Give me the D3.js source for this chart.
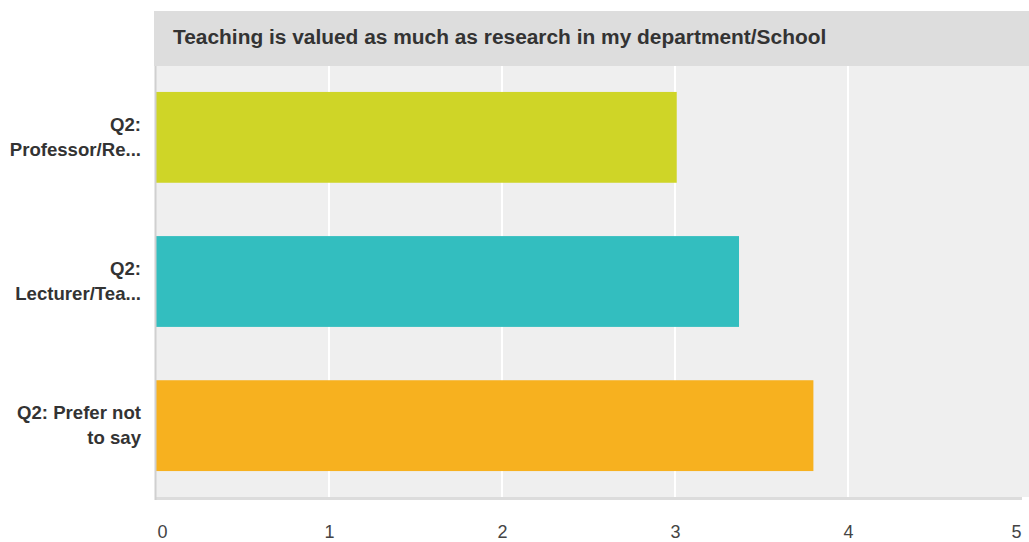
<!DOCTYPE html>
<html><head><meta charset="utf-8">
<script src="https://cdn.jsdelivr.net/npm/d3@7/dist/d3.min.js"></script>
<style>body{margin:0;background:#fff;}svg{display:block;font-family:"Liberation Sans",Arial,Helvetica,sans-serif;}</style>
</head><body><svg id="c" width="1029" height="542"></svg>
<script>
const title = "Teaching is valued as much as research in my department/School";
const categories = ["Q2: Professor/Re...", "Q2: Lecturer/Tea...", "Q2: Prefer not to say"];
const labelLines = [["Q2:", "Professor/Re..."], ["Q2:", "Lecturer/Tea..."], ["Q2: Prefer not", "to say"]];
const values = [3.01, 3.37, 3.80];
const colors = ["#cfd527", "#33bebf", "#f7b11f"];
const ticks = [0, 1, 2, 3, 4, 5];

(function () {
const svg = d3.select("#c");
const pL = 156, pR = 1021, pT = 66, pB = 497;
const x = d3.scaleLinear().domain([0, 5]).range([pL, pR]);
const y = d3.scaleBand().domain(categories).range([pT, pB]).paddingInner(0.37).paddingOuter(0.18);

// title band
svg.append("rect").attr("x", 154).attr("y", 11).attr("width", 1029 - 154).attr("height", 55).attr("fill", "#dddddd");
svg.append("text").attr("x", 173).attr("y", 44).attr("font-size", 20.9).attr("font-weight", "bold").attr("fill", "#333").text(title);

// plot bg
svg.append("rect").attr("x", pL).attr("y", pT).attr("width", 1029 - pL).attr("height", pB - pT).attr("fill", "#efefef");

// gridlines
svg.append("g").selectAll("line").data(ticks.filter(t => t > 0 && t < 5)).join("line")
  .attr("x1", d => x(d)).attr("x2", d => x(d)).attr("y1", pT).attr("y2", pB)
  .attr("stroke", "#fff").attr("stroke-width", 2);

// bars
svg.append("g").selectAll("rect").data(categories).join("rect")
  .attr("x", x(0)).attr("y", d => y(d)).attr("width", (d, i) => x(values[i]) - x(0)).attr("height", y.bandwidth())
  .attr("fill", (d, i) => colors[i]);

// axis lines
svg.append("rect").attr("x", 155).attr("y", pB).attr("width", 1022 - 155).attr("height", 3).attr("fill", "#dcdcdc");
svg.append("rect").attr("x", 154.5).attr("y", pT).attr("width", 2).attr("height", pB - pT + 3).attr("fill", "#d0d0d0");

// x axis ticks
const xAxis = d3.axisBottom(x).tickValues(ticks).tickSize(0).tickPadding(0).tickFormat(d3.format("d"));
const gx = svg.append("g").attr("transform", `translate(0,${pB})`).call(xAxis);
gx.select(".domain").remove();
gx.selectAll("text").attr("y", 41).attr("dy", 0).attr("font-size", 18).attr("fill", "#444")
  .attr("font-family", "Liberation Sans, Arial, sans-serif")
  .attr("text-anchor", d => d === 0 ? "start" : (d === 5 ? "end" : "middle"))
  .attr("x", d => d === 0 ? 1 : 0);

// y labels
const gy = svg.append("g");
categories.forEach((c, i) => {
  const cy = y(c) + y.bandwidth() / 2;
  const lines = labelLines[i];
  lines.forEach((t, j) => {
    gy.append("text").attr("x", 141).attr("y", cy + (j - (lines.length - 1) / 2) * 25 + 6)
      .attr("text-anchor", "end").attr("font-size", 18.6).attr("font-weight", "bold").attr("fill", "#333").text(t);
  });
});
})();
</script></body></html>
